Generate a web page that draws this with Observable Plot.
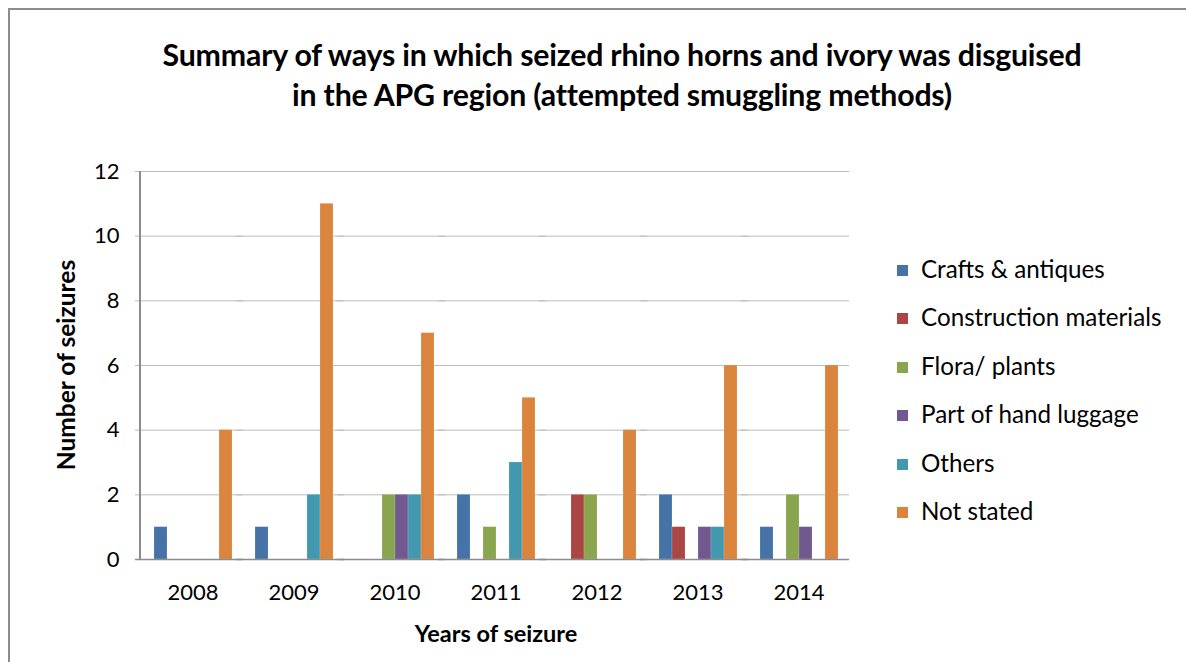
<!DOCTYPE html>
<html><head><meta charset="utf-8">
<script src="https://cdn.jsdelivr.net/npm/d3@7"></script>
<script src="https://cdn.jsdelivr.net/npm/@observablehq/plot@0.6"></script>
<style>
body{margin:0;background:#fff;font-family:Lato,"Open Sans",sans-serif;color:#000;}
#wrap{position:relative;width:1186px;height:662px;overflow:hidden;}
#frame{position:absolute;left:8px;top:8px;width:1300px;height:800px;border-left:2px solid #8c8c8c;border-top:2px solid #8c8c8c;}
#yline{position:absolute;left:139px;top:171px;width:1.5px;height:388px;background:#8c8c8c;}
#chart{position:absolute;left:0;top:0;}
#title{position:absolute;left:122px;width:1000px;top:34px;text-align:center;font-weight:bold;font-size:30.3px;line-height:40px;letter-spacing:-0.2px;}
#xtitle{position:absolute;left:296px;width:400px;top:619px;text-align:center;font-weight:bold;font-size:23.5px;line-height:28px;}
#ytitle{position:absolute;left:-134px;width:400px;top:351px;text-align:center;font-weight:bold;font-size:24.5px;line-height:28px;transform:rotate(-90deg);}
#legend{position:absolute;left:897px;top:254px;}
.item{height:48.4px;display:flex;align-items:flex-start;font-size:24.2px;line-height:30px;white-space:nowrap;}
.sw{width:11px;height:11px;margin-top:11px;margin-right:13px;flex:none;}
</style></head>
<body>
<div id="wrap">
<div id="frame"></div>
<div id="chart"></div>
<div id="yline"></div>
<div id="title">Summary of ways in which seized rhino horns and ivory was disguised<br>in the APG region (attempted smuggling methods)</div>
<div id="xtitle">Years of seizure</div>
<div id="ytitle">Number of seizures</div>
<div id="legend"></div>
</div>
<script>
const years = ["2008","2009","2010","2011","2012","2013","2014"];
const seriesNames = ["Crafts & antiques","Construction materials","Flora/ plants","Part of hand luggage","Others","Not stated"];
const seriesColors = ["#4572A7","#AA4643","#89A54E","#71588F","#4198AF","#DB843D"];
const craftsAntiques = [1,1,0,2,0,2,1];
const constructionMaterials = [0,0,0,0,2,1,0];
const floraPlants = [0,0,2,1,2,0,2];
const handLuggage = [0,0,2,0,0,1,1];
const others = [0,2,2,3,0,1,0];
const notStated = [4,11,7,5,4,6,6];
const yTicks = [0,2,4,6,8,10,12];

const seriesValues = [craftsAntiques, constructionMaterials, floraPlants, handLuggage, others, notStated];
const rows = [];
years.forEach((y, i) => seriesNames.forEach((s, j) => rows.push({year: y, series: s, value: seriesValues[j][i]})));

const plot = Plot.plot({
  width: 1186, height: 662,
  marginLeft: 140, marginRight: 335, marginTop: 171, marginBottom: 103,
  style: {fontSize: "22px", fontFamily: "Lato, 'Open Sans', sans-serif", color: "#000", background: "transparent"},
  fx: {domain: years, padding: 0, label: null, axis: "bottom", tickSize: 0, tickPadding: 25},
  x: {domain: seriesNames, axis: null, paddingInner: 0, paddingOuter: 0.7},
  y: {domain: [0, 12], ticks: yTicks, label: null},
  color: {domain: seriesNames, range: seriesColors},
  marks: [
    Plot.ruleY(yTicks.filter(d => d > 0), {stroke: "#bdbdbd", strokeWidth: 1, insetLeft: -7}),
    Plot.barY(rows, {fx: "year", x: "series", y: "value", fill: "series", stroke: "#ffffff", strokeOpacity: 0.25, strokeWidth: 0.6}),
    Plot.ruleY([0], {stroke: "#8c8c8c", strokeWidth: 1.5, insetLeft: -7}),
    Plot.axisY({ticks: yTicks, tickSize: 0, tickPadding: 23, label: null, fontSize: 22})
  ]
});
document.getElementById("chart").appendChild(plot);

const leg = document.getElementById("legend");
seriesNames.forEach((s, i) => {
  const d = document.createElement("div");
  d.className = "item";
  d.innerHTML = `<span class="sw" style="background:${seriesColors[i]}"></span><span>${s.replace("&","&amp;")}</span>`;
  leg.appendChild(d);
});
</script>
</body></html>
